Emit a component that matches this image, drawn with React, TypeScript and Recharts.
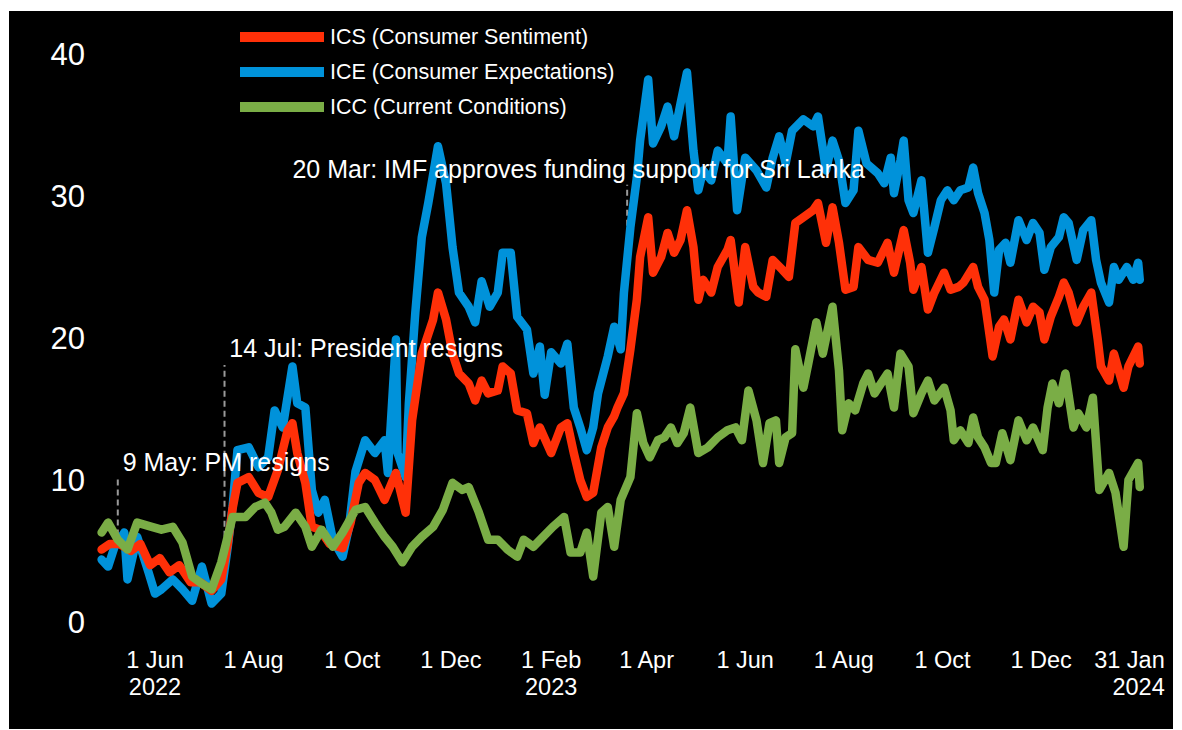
import React from 'react';
import { LineChart, Line, XAxis, YAxis, ReferenceLine, ReferenceDot, Legend } from 'recharts';

// ICS (Consumer Sentiment)
const ICS: [string, number][] = [
  ['2022-04-29', 5.1], ['2022-05-04', 5.5], ['2022-05-10', 5.5], ['2022-05-17', 5.0], ['2022-05-23', 5.5],
  ['2022-05-29', 4.0], ['2022-06-04', 4.5], ['2022-06-10', 3.5], ['2022-06-16', 4.0], ['2022-06-23', 2.8],
  ['2022-06-29', 2.8], ['2022-07-06', 2.2], ['2022-07-12', 3.0], ['2022-07-16', 5.5], ['2022-07-19', 8.0],
  ['2022-07-22', 9.8], ['2022-07-29', 10.2], ['2022-08-04', 9.1], ['2022-08-10', 8.8], ['2022-08-16', 10.7],
  ['2022-08-22', 13.5], ['2022-08-25', 14.0], ['2022-08-28', 11.9], ['2022-09-02', 9.8], ['2022-09-06', 6.7],
  ['2022-09-11', 6.5], ['2022-09-17', 5.5], ['2022-09-25', 5.2], ['2022-09-30', 7.0], ['2022-10-05', 9.8],
  ['2022-10-09', 10.5], ['2022-10-15', 10.0], ['2022-10-21', 8.6], ['2022-10-28', 10.5], ['2022-11-03', 7.7],
  ['2022-11-07', 14.2], ['2022-11-13', 18.9], ['2022-11-20', 21.3], ['2022-11-23', 23.2], ['2022-11-28', 21.3],
  ['2022-12-02', 18.9], ['2022-12-06', 17.5], ['2022-12-12', 16.8], ['2022-12-16', 15.6], ['2022-12-20', 17.0],
  ['2022-12-24', 16.1], ['2022-12-30', 16.3], ['2023-01-02', 18.0], ['2023-01-07', 17.5], ['2023-01-11', 14.9],
  ['2023-01-17', 14.7], ['2023-01-21', 12.6], ['2023-01-25', 13.7], ['2023-02-01', 11.9], ['2023-02-07', 13.7],
  ['2023-02-11', 14.0], ['2023-02-15', 11.9], ['2023-02-19', 10.0], ['2023-02-23', 8.8], ['2023-02-27', 9.1],
  ['2023-03-04', 12.3], ['2023-03-08', 13.7], ['2023-03-12', 14.5], ['2023-03-14', 15.1], ['2023-03-18', 16.1],
  ['2023-03-22', 19.2], ['2023-03-26', 22.7], ['2023-03-28', 25.7], ['2023-04-02', 28.5], ['2023-04-05', 24.6],
  ['2023-04-10', 25.7], ['2023-04-14', 27.4], ['2023-04-18', 26.0], ['2023-04-22', 26.9], ['2023-04-26', 29.0],
  ['2023-04-30', 26.4], ['2023-05-03', 22.7], ['2023-05-06', 24.1], ['2023-05-11', 23.2], ['2023-05-15', 25.0],
  ['2023-05-21', 26.2], ['2023-05-23', 26.9], ['2023-05-28', 22.5], ['2023-06-01', 26.4], ['2023-06-06', 23.6],
  ['2023-06-09', 23.2], ['2023-06-14', 22.9], ['2023-06-18', 25.5], ['2023-06-24', 24.8], ['2023-06-28', 24.3],
  ['2023-07-02', 28.1], ['2023-07-07', 28.5], ['2023-07-13', 29.0], ['2023-07-16', 29.5], ['2023-07-21', 26.7],
  ['2023-07-25', 29.2], ['2023-07-29', 26.7], ['2023-08-02', 23.4], ['2023-08-07', 23.6], ['2023-08-10', 26.4],
  ['2023-08-16', 25.5], ['2023-08-22', 25.3], ['2023-08-28', 26.7], ['2023-09-01', 24.6], ['2023-09-07', 27.6],
  ['2023-09-11', 25.3], ['2023-09-13', 23.4], ['2023-09-18', 25.0], ['2023-09-22', 22.0], ['2023-09-26', 23.2],
  ['2023-10-02', 24.6], ['2023-10-06', 23.4], ['2023-10-11', 23.6], ['2023-10-14', 23.9], ['2023-10-20', 25.0],
  ['2023-10-23', 23.6], ['2023-10-27', 22.7], ['2023-11-01', 18.7], ['2023-11-05', 20.8], ['2023-11-08', 21.3],
  ['2023-11-12', 19.9], ['2023-11-17', 22.7], ['2023-11-22', 21.1], ['2023-11-26', 22.2], ['2023-11-30', 21.8],
  ['2023-12-03', 19.9], ['2023-12-07', 21.5], ['2023-12-12', 22.9], ['2023-12-15', 23.9], ['2023-12-18', 23.2],
  ['2023-12-23', 21.1], ['2023-12-27', 22.2], ['2024-01-01', 23.2], ['2024-01-05', 19.9], ['2024-01-07', 18.0],
  ['2024-01-12', 17.0], ['2024-01-15', 18.9], ['2024-01-21', 16.5], ['2024-01-24', 18.0], ['2024-01-30', 19.4],
  ['2024-01-31', 18.2],
];

// ICE (Consumer Expectations)
const ICE: [string, number][] = [
  ['2022-04-29', 4.4], ['2022-05-03', 3.9], ['2022-05-07', 5.3], ['2022-05-13', 6.3], ['2022-05-15', 3.0],
  ['2022-05-21', 6.0], ['2022-05-28', 3.5], ['2022-06-01', 2.0], ['2022-06-05', 2.3], ['2022-06-12', 3.0],
  ['2022-06-18', 2.3], ['2022-06-24', 1.5], ['2022-06-30', 3.9], ['2022-07-06', 1.3], ['2022-07-12', 2.0],
  ['2022-07-16', 5.3], ['2022-07-19', 8.1], ['2022-07-22', 12.1], ['2022-07-29', 12.3], ['2022-08-04', 10.9],
  ['2022-08-10', 11.6], ['2022-08-14', 14.9], ['2022-08-19', 13.7], ['2022-08-25', 18.0], ['2022-08-28', 15.4],
  ['2022-09-02', 15.1], ['2022-09-06', 9.3], ['2022-09-10', 7.7], ['2022-09-14', 8.6], ['2022-09-19', 5.8],
  ['2022-09-25', 4.6], ['2022-09-29', 6.7], ['2022-10-03', 10.6], ['2022-10-09', 12.8], ['2022-10-15', 11.9],
  ['2022-10-21', 12.8], ['2022-10-23', 10.5], ['2022-10-28', 19.9], ['2022-10-29', 11.9], ['2022-11-03', 10.2],
  ['2022-11-05', 15.4], ['2022-11-09', 21.8], ['2022-11-13', 27.1], ['2022-11-17', 29.5], ['2022-11-23', 33.5],
  ['2022-11-28', 30.9], ['2022-12-02', 26.4], ['2022-12-06', 23.2], ['2022-12-12', 22.2], ['2022-12-16', 21.1],
  ['2022-12-20', 24.0], ['2022-12-25', 22.2], ['2022-12-30', 23.2], ['2023-01-02', 26.0], ['2023-01-07', 26.0],
  ['2023-01-11', 21.5], ['2023-01-17', 20.6], ['2023-01-21', 17.5], ['2023-01-25', 19.4], ['2023-01-28', 16.0],
  ['2023-02-01', 19.0], ['2023-02-07', 18.2], ['2023-02-11', 19.6], ['2023-02-15', 15.1], ['2023-02-19', 13.7],
  ['2023-02-23', 12.1], ['2023-02-27', 13.7], ['2023-03-02', 16.1], ['2023-03-08', 18.7], ['2023-03-12', 20.8],
  ['2023-03-16', 19.2], ['2023-03-18', 23.2], ['2023-03-22', 27.8], ['2023-03-26', 31.3], ['2023-03-28', 33.9],
  ['2023-04-02', 38.2], ['2023-04-05', 33.7], ['2023-04-10', 34.9], ['2023-04-14', 36.3], ['2023-04-18', 34.2],
  ['2023-04-22', 36.5], ['2023-04-26', 38.7], ['2023-04-30', 33.2], ['2023-05-03', 30.4], ['2023-05-06', 31.8],
  ['2023-05-11', 31.1], ['2023-05-15', 33.2], ['2023-05-21', 32.3], ['2023-05-23', 35.6], ['2023-05-27', 29.0],
  ['2023-06-01', 32.7], ['2023-06-08', 31.8], ['2023-06-14', 30.6], ['2023-06-18', 32.7], ['2023-06-22', 34.2],
  ['2023-06-26', 32.3], ['2023-06-30', 34.6], ['2023-07-07', 35.4], ['2023-07-13', 34.9], ['2023-07-16', 35.6],
  ['2023-07-21', 31.8], ['2023-07-25', 33.9], ['2023-07-29', 32.5], ['2023-08-02', 29.5], ['2023-08-07', 30.4],
  ['2023-08-10', 34.6], ['2023-08-15', 32.3], ['2023-08-22', 31.6], ['2023-08-26', 30.9], ['2023-08-30', 32.7],
  ['2023-09-01', 30.2], ['2023-09-05', 32.5], ['2023-09-07', 33.9], ['2023-09-10', 29.7], ['2023-09-13', 28.8],
  ['2023-09-18', 31.1], ['2023-09-22', 26.0], ['2023-09-26', 27.8], ['2023-09-30', 29.7], ['2023-10-04', 30.4],
  ['2023-10-08', 29.7], ['2023-10-12', 30.4], ['2023-10-17', 30.6], ['2023-10-20', 32.0], ['2023-10-23', 30.2],
  ['2023-10-27', 28.8], ['2023-10-30', 26.9], ['2023-11-02', 23.2], ['2023-11-05', 26.2], ['2023-11-09', 26.7],
  ['2023-11-12', 25.3], ['2023-11-17', 28.3], ['2023-11-22', 26.9], ['2023-11-26', 28.1], ['2023-11-30', 27.4],
  ['2023-12-03', 24.8], ['2023-12-07', 26.4], ['2023-12-12', 27.1], ['2023-12-15', 28.5], ['2023-12-18', 28.1],
  ['2023-12-23', 25.5], ['2023-12-27', 27.6], ['2024-01-01', 28.3], ['2024-01-04', 25.5], ['2024-01-07', 23.9],
  ['2024-01-12', 22.5], ['2024-01-15', 25.0], ['2024-01-18', 24.1], ['2024-01-23', 25.0], ['2024-01-27', 24.1],
  ['2024-01-30', 25.3], ['2024-01-31', 24.1],
];

// ICC (Current Conditions)
const ICC: [string, number][] = [
  ['2022-04-29', 6.3], ['2022-05-03', 7.0], ['2022-05-09', 5.8], ['2022-05-15', 5.1], ['2022-05-21', 7.0],
  ['2022-05-30', 6.7], ['2022-06-05', 6.5], ['2022-06-12', 6.7], ['2022-06-18', 5.6], ['2022-06-24', 3.2],
  ['2022-06-30', 2.7], ['2022-07-06', 2.3], ['2022-07-12', 4.2], ['2022-07-19', 7.4], ['2022-07-27', 7.4],
  ['2022-08-02', 8.1], ['2022-08-08', 8.4], ['2022-08-12', 7.7], ['2022-08-16', 6.5], ['2022-08-20', 6.7],
  ['2022-08-27', 7.7], ['2022-09-02', 6.7], ['2022-09-06', 5.3], ['2022-09-12', 6.5], ['2022-09-19', 5.3],
  ['2022-09-25', 6.3], ['2022-10-03', 7.9], ['2022-10-09', 8.1], ['2022-10-15', 7.0], ['2022-10-21', 6.0],
  ['2022-10-26', 5.3], ['2022-11-01', 4.2], ['2022-11-07', 5.3], ['2022-11-13', 6.0], ['2022-11-20', 6.7],
  ['2022-11-26', 7.9], ['2022-12-02', 9.8], ['2022-12-08', 9.3], ['2022-12-12', 9.5], ['2022-12-18', 7.8],
  ['2022-12-24', 5.8], ['2022-12-30', 5.8], ['2023-01-05', 5.1], ['2023-01-11', 4.6], ['2023-01-15', 5.8],
  ['2023-01-21', 5.3], ['2023-01-27', 6.0], ['2023-02-02', 6.7], ['2023-02-09', 7.4], ['2023-02-13', 4.9],
  ['2023-02-19', 4.9], ['2023-02-23', 6.3], ['2023-02-27', 3.2], ['2023-03-04', 7.7], ['2023-03-08', 8.1],
  ['2023-03-12', 5.3], ['2023-03-16', 8.6], ['2023-03-22', 10.2], ['2023-03-26', 14.7], ['2023-03-30', 12.6],
  ['2023-04-03', 11.6], ['2023-04-08', 12.8], ['2023-04-12', 13.0], ['2023-04-16', 13.7], ['2023-04-20', 12.6],
  ['2023-04-24', 13.3], ['2023-04-28', 15.1], ['2023-05-03', 11.9], ['2023-05-09', 12.3], ['2023-05-15', 13.0],
  ['2023-05-21', 13.5], ['2023-05-26', 13.7], ['2023-05-30', 12.8], ['2023-06-03', 16.3], ['2023-06-08', 14.2],
  ['2023-06-12', 11.2], ['2023-06-16', 14.0], ['2023-06-20', 14.2], ['2023-06-22', 11.2], ['2023-06-26', 13.0],
  ['2023-06-30', 13.3], ['2023-07-02', 19.2], ['2023-07-07', 16.5], ['2023-07-10', 18.2], ['2023-07-15', 21.1],
  ['2023-07-19', 18.9], ['2023-07-25', 22.2], ['2023-07-29', 17.7], ['2023-07-31', 13.5], ['2023-08-04', 15.4],
  ['2023-08-08', 14.9], ['2023-08-13', 16.8], ['2023-08-16', 17.5], ['2023-08-20', 16.1], ['2023-08-24', 16.8],
  ['2023-08-28', 17.5], ['2023-09-01', 15.1], ['2023-09-05', 18.9], ['2023-09-10', 18.0], ['2023-09-13', 14.7],
  ['2023-09-18', 16.1], ['2023-09-22', 17.0], ['2023-09-26', 15.6], ['2023-10-02', 16.5], ['2023-10-06', 14.9],
  ['2023-10-08', 12.8], ['2023-10-12', 13.5], ['2023-10-17', 12.6], ['2023-10-20', 14.4], ['2023-10-23', 13.0],
  ['2023-10-27', 12.3], ['2023-10-31', 11.2], ['2023-11-03', 11.2], ['2023-11-07', 13.3], ['2023-11-12', 11.4],
  ['2023-11-17', 14.2], ['2023-11-22', 12.8], ['2023-11-26', 13.7], ['2023-12-02', 12.1], ['2023-12-05', 15.1],
  ['2023-12-08', 16.8], ['2023-12-12', 15.4], ['2023-12-16', 17.5], ['2023-12-21', 13.7], ['2023-12-24', 14.7],
  ['2023-12-29', 13.7], ['2024-01-02', 15.8], ['2024-01-06', 9.3], ['2024-01-12', 10.5], ['2024-01-16', 9.1],
  ['2024-01-21', 5.3], ['2024-01-24', 10.0], ['2024-01-30', 11.2], ['2024-01-31', 9.5],
];

const X_TICK_DATES = [
  '2022-06-01', '2022-08-01', '2022-10-01', '2022-12-01', '2023-02-01', '2023-04-01',
  '2023-06-01', '2023-08-01', '2023-10-01', '2023-12-01', '2024-01-31',
];
const X_TICK_LABELS = ['1 Jun', '1 Aug', '1 Oct', '1 Dec', '1 Feb', '1 Apr', '1 Jun', '1 Aug', '1 Oct', '1 Dec', '31 Jan'];
const X_TICK_YEARS = ['2022', '', '', '', '2023', '', '', '', '', '', '2024'];
const Y_TICKS = [0, 10, 20, 30, 40];

const EVENT_DATES = ['2022-05-09', '2022-07-14', '2023-03-20'];
const EVENT_TEXTS = ['9 May: PM resigns', '14 Jul: President resigns', '20 Mar: IMF approves funding support for Sri Lanka'];

// placement of the event markers (value range of the dashed marker, text anchor)
const EVENT_MARK_RANGE: [number, number][] = [[6.1, 10.1], [6.0, 18.1], [26.5, 30.8]];
const EVENT_TEXT_AT: [string, number][] = [['2022-05-12', 10.63], ['2022-07-17', 18.66], ['2022-08-25', 31.27]];

const FONT = '"Liberation Sans", Arial, Helvetica, sans-serif';
const RED = '#FF3008';
const BLUE = '#0092DA';
const GREEN = '#7AAD46';

const toPoints = (rows: [string, number][]) => rows.map(([d, v]) => ({ t: Date.parse(d), v }));
const icsData = toPoints(ICS);
const iceData = toPoints(ICE);
const iccData = toPoints(ICC);
const xTicks = X_TICK_DATES.map((d) => Date.parse(d));

const XTick = (props: any) => {
  const { x, y, payload } = props;
  const i = xTicks.indexOf(payload.value);
  const last = i === xTicks.length - 1;
  const tx = last ? x + 25 : x;
  const anchor = last ? 'end' : 'middle';
  return (
    <g>
      <text x={tx} y={y + 46} textAnchor={anchor} fill="#fff" fontSize={23.5} fontFamily={FONT}>
        {X_TICK_LABELS[i]}
      </text>
      {X_TICK_YEARS[i] ? (
        <text x={tx} y={y + 73} textAnchor={anchor} fill="#fff" fontSize={23.5} fontFamily={FONT}>
          {X_TICK_YEARS[i]}
        </text>
      ) : null}
    </g>
  );
};

const LEGEND_ITEMS = [
  { label: 'ICS (Consumer Sentiment)', color: RED },
  { label: 'ICE (Consumer Expectations)', color: BLUE },
  { label: 'ICC (Current Conditions)', color: GREEN },
];

const LegendContent = () => (
  <div style={{ fontFamily: FONT }}>
    {LEGEND_ITEMS.map((it) => (
      <div key={it.label} style={{ display: 'flex', alignItems: 'center', height: 35 }}>
        <div style={{ width: 84, height: 10, background: it.color }} />
        <span style={{ marginLeft: 6, color: '#fff', fontSize: 21.5, whiteSpace: 'nowrap' }}>{it.label}</span>
      </div>
    ))}
  </div>
);

const LINE_W = 8.5;

export default function App() {
  return (
    <div style={{ padding: '3px 0 0 1px' }}>
      <div style={{ width: 1164, height: 718, background: '#000' }}>
        <LineChart width={1164} height={718} margin={{ top: 43, right: 30, bottom: 0, left: 0 }}>
          <XAxis
            type="number"
            dataKey="t"
            domain={[Date.parse('2022-04-28'), Date.parse('2024-02-02')]}
            ticks={xTicks}
            interval={0}
            tick={<XTick />}
            axisLine={false}
            tickLine={false}
            tickSize={0}
            tickMargin={0}
            height={107}
          />
          <YAxis
            type="number"
            domain={[0, 40]}
            ticks={Y_TICKS}
            interval={0}
            width={91}
            axisLine={false}
            tickLine={false}
            tickSize={0}
            tickMargin={15}
            tick={{ fill: '#fff', fontSize: 31, fontFamily: FONT }}
          />
          {EVENT_DATES.map((d, i) => (
            <ReferenceLine
              key={'l' + d}
              segment={[
                { x: Date.parse(d), y: EVENT_MARK_RANGE[i][0] },
                { x: Date.parse(d), y: EVENT_MARK_RANGE[i][1] },
              ]}
              stroke="#9a9a9a"
              strokeWidth={2}
              strokeDasharray="6 4"
              ifOverflow="visible"
            />
          ))}
          <Line data={iceData} dataKey="v" name="ICE" stroke={BLUE} strokeWidth={LINE_W} dot={false} isAnimationActive={false} strokeLinejoin="round" strokeLinecap="round" />
          <Line data={icsData} dataKey="v" name="ICS" stroke={RED} strokeWidth={LINE_W} dot={false} isAnimationActive={false} strokeLinejoin="round" strokeLinecap="round" />
          <Line data={iccData} dataKey="v" name="ICC" stroke={GREEN} strokeWidth={LINE_W} dot={false} isAnimationActive={false} strokeLinejoin="round" strokeLinecap="round" />
          {EVENT_TEXTS.map((txt, i) => (
            <ReferenceDot
              key={'t' + i}
              x={Date.parse(EVENT_TEXT_AT[i][0])}
              y={EVENT_TEXT_AT[i][1]}
              r={0}
              ifOverflow="visible"
              shape={(p: any) => (
                <text x={p.cx} y={p.cy} fill="#fff" fontSize={25} fontFamily={FONT} textAnchor="start">
                  {txt}
                </text>
              )}
            />
          ))}
          <Legend
            layout="vertical"
            align="center"
            verticalAlign="middle"
            wrapperStyle={{ left: 231, top: 8.5, width: 420, height: 108 }}
            content={() => <LegendContent />}
          />
        </LineChart>
      </div>
    </div>
  );
}
